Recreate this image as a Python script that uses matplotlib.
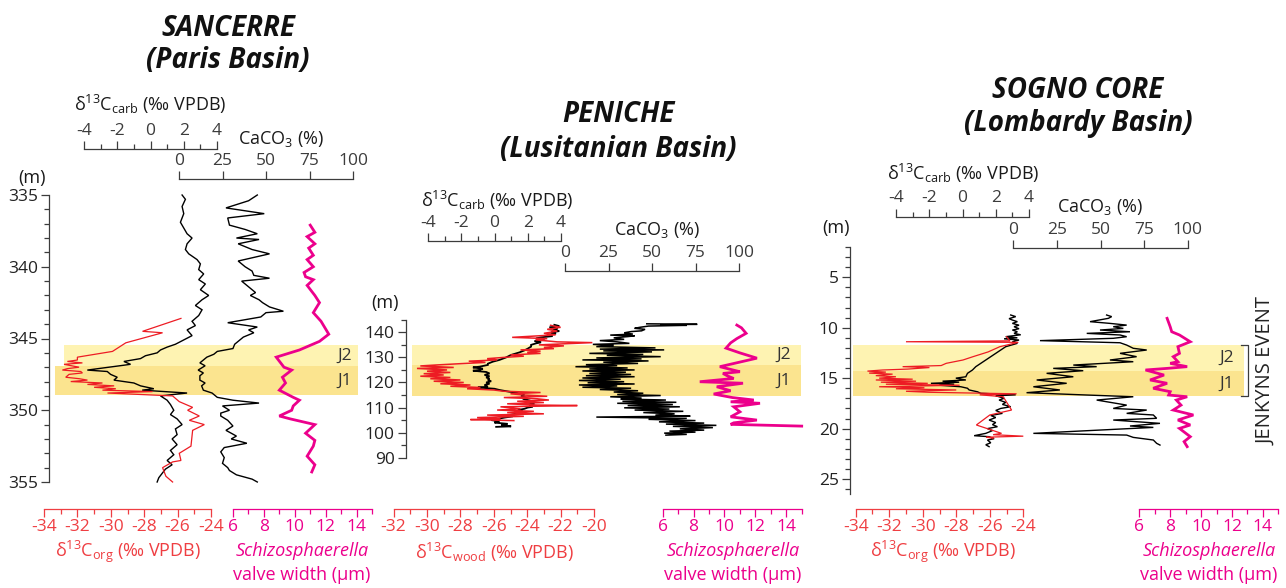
import matplotlib
matplotlib.use('Agg')
import matplotlib.pyplot as plt
import matplotlib.transforms as mtransforms

plt.rcParams['font.family'] = ['Open Sans', 'DejaVu Sans']
plt.rcParams['mathtext.fontset'] = 'custom'
plt.rcParams['mathtext.rm'] = 'Open Sans'
plt.rcParams['mathtext.it'] = 'Open Sans:italic'
plt.rcParams['mathtext.default'] = 'regular'
plt.rcParams['axes.unicode_minus'] = False

W, H = 1286, 588
RED = '#ED1C24'
RED_AX = '#EF3E42'
PINK = '#EC008C'
GREY = '#3c3c3c'
J2_COL = '#FEF3B2'
J1_COL = '#FBE48F'

# ---------------- SANCERRE (Paris Basin) ----------------
sanc_carb_depth = [335.0, 335.3, 335.8, 336.3, 336.9, 337.3, 337.7, 338.0, 338.4, 338.8, 339.1, 339.5,
                   339.8, 340.2, 340.5, 340.9, 341.2, 341.6, 342.0, 342.3, 342.7, 343.0, 343.4, 343.8,
                   344.1, 344.4, 344.8, 345.1, 345.4, 345.6, 345.8, 346.0, 346.2, 346.4, 346.6, 346.8,
                   347.0, 347.2, 347.3, 347.5, 347.7, 347.9, 348.1, 348.3, 348.5, 348.6, 348.8, 349.0,
                   349.3, 349.6, 350.0, 350.3, 350.6, 351.0, 351.3, 351.7, 352.0, 352.4, 352.8, 353.1,
                   353.5, 353.8, 354.1, 354.4, 354.7, 355.0]
sanc_carb = [1.9, 2.1, 1.9, 2.0, 1.8, 2.0, 2.2, 2.5, 2.2, 2.1, 2.3, 2.8,
             3.0, 2.9, 3.2, 2.9, 3.3, 3.0, 3.5, 3.1, 2.7, 3.1, 2.9, 2.5,
             2.7, 2.2, 2.5, 2.0, 1.5, 1.0, 0.6, 0.4, -0.3, -0.6, -1.6, -1.2,
             -2.5, -3.8, -2.6, -2.4, -2.0, -2.2, -1.0, -0.6, 0.2, -0.5, 2.2, 0.6,
             1.0, 1.2, 1.4, 1.2, 1.6, 1.9, 1.5, 1.6, 1.3, 1.6, 1.2, 1.4,
             1.0, 1.3, 0.9, 0.7, 0.5, 0.4]

sanc_caco3_depth = [335.0, 335.4, 335.9, 336.3, 336.6, 337.1, 337.4, 337.7, 338.0, 338.1, 338.4, 338.8,
                    339.1, 339.6, 340.0, 340.3, 340.6, 340.8, 341.0, 341.4, 341.8, 342.0, 342.3, 342.5,
                    342.8, 343.1, 343.2, 343.5, 343.9, 344.2, 344.4, 344.6, 344.9, 345.1, 345.4, 345.7,
                    345.9, 346.1, 346.3, 346.5, 346.7, 346.9, 347.2, 347.4, 347.6, 347.9, 348.1, 348.3,
                    348.6, 348.8, 349.1, 349.3, 349.5, 349.7, 350.0, 350.2, 350.4, 350.7, 351.1, 351.4,
                    351.8, 352.0, 352.3, 352.6, 352.9, 353.3, 353.7, 354.0, 354.2, 354.5, 354.8, 355.0]
sanc_caco3 = [45, 40, 27, 49, 28, 29, 38, 45, 33, 46, 34, 42,
              52, 34, 38, 42, 43, 52, 36, 40, 44, 41, 46, 48,
              52, 60, 50, 47, 28, 45, 40, 43, 37, 35, 32, 31,
              22, 20, 16, 14, 12, 15, 11, 14, 12, 12, 15, 13,
              14, 19, 22, 31, 46, 25, 29, 24, 24, 28, 31, 27,
              33, 30, 39, 26, 24, 26, 25, 28, 29, 33, 42, 45]

sanc_org_depth = [343.6, 344.5, 344.6, 345.3, 345.9, 346.3, 346.5, 346.6, 346.7, 346.8, 347.0, 347.1,
                  347.2, 347.3, 347.4, 347.5, 347.7, 347.8, 347.9, 348.0, 348.1, 348.2, 348.3, 348.4,
                  348.5, 348.6, 348.7, 348.8, 349.0, 349.4, 349.8, 350.0, 350.4, 350.7, 351.0, 351.4,
                  352.5, 353.0, 353.5, 353.6, 354.0, 354.6, 355.0]
sanc_org = [-25.8, -28.1, -26.9, -29.1, -29.9, -32.0, -32.0, -32.6, -31.7, -32.8, -31.9, -32.6,
            -32.9, -31.8, -31.7, -32.5, -32.7, -31.9, -31.4, -32.4, -30.5, -31.4, -29.8, -31.0,
            -29.7, -30.5, -27.5, -30.2, -26.3, -25.9, -25.1, -25.4, -24.7, -25.3, -24.4, -25.1,
            -25.2, -25.9, -25.8, -26.3, -26.9, -26.7, -26.3]

sanc_valve_depth = [337.1, 337.6, 337.9, 338.4, 338.7, 339.2, 339.5, 340.0, 340.4, 340.7, 340.9, 341.3,
                    342.0, 342.5, 343.2, 343.8, 344.7, 345.2, 345.8, 346.3, 347.0, 347.2, 347.7, 348.1,
                    348.6, 349.1, 349.3, 349.7, 350.0, 350.4, 350.6, 351.0, 351.6, 352.1, 352.5, 353.2,
                    353.8, 354.3]
sanc_valve = [11.0, 11.3, 10.8, 11.3, 10.9, 11.2, 10.8, 11.2, 10.6, 10.7, 11.2, 10.8,
              11.3, 11.6, 11.2, 11.7, 12.2, 11.6, 10.3, 8.8, 9.3, 9.8, 9.2, 9.4,
              9.0, 9.9, 10.3, 9.9, 9.8, 9.0, 9.7, 11.3, 10.7, 11.3, 11.2, 10.8,
              11.3, 11.1]

# ---------------- PENICHE (Lusitanian Basin) ----------------
pen_carb_height = [143.0, 142.5, 142.0, 141.5, 141.0, 140.5, 140.0, 139.5, 139.0, 138.5, 138.0, 137.6,
                   137.0, 136.5, 136.0, 135.6, 135.0, 134.3, 133.5, 132.8, 132.0, 131.0, 130.0, 129.0,
                   128.3, 127.5, 127.0, 126.3, 126.0, 125.5, 125.0, 124.7, 124.2, 123.6, 123.0, 122.5,
                   122.0, 121.5, 121.0, 120.5, 120.0, 119.5, 119.0, 118.3, 118.0, 117.5, 117.0, 116.3,
                   116.0, 115.5, 115.0, 114.5, 114.0, 113.5, 113.0, 112.5, 112.0, 111.5, 111.0, 110.3,
                   110.0, 109.5, 109.0, 108.5, 108.0, 107.7, 107.0, 106.5, 106.0, 105.5, 105.0, 104.5,
                   104.0, 103.5, 103.0, 102.5, 102.3]
pen_carb = [3.6, 3.9, 3.3, 3.8, 3.5, 3.9, 3.4, 3.7, 3.2, 3.5, 2.8, 2.5,
            3.0, 2.4, 2.8, 2.5, 2.2, 2.2, 2.0, 1.8, 1.5, 1.0, 0.7, 0.3,
            -0.1, -0.4, -0.4, -0.9, -1.3, -0.7, -0.9, -1.3, -0.5, -0.3, -0.6, -0.3,
            -0.5, -0.3, -0.4, -0.2, -0.5, -0.3, -0.6, -0.4, -1.0, 0.0, 0.3, 0.9,
            1.3, 1.5, 1.8, 1.6, 1.9, 1.7, 2.0, 2.3, 2.0, 2.4, 2.1, 2.3,
            2.0, 1.8, 1.4, 1.7, 1.2, 1.4, 0.9, 1.1, 0.6, 0.2, -0.2, 0.3,
            0.0, 0.8, 0.4, 1.0, 0.1]

pen_wood_height = [142.8, 142.0, 141.2, 140.5, 139.6, 139.0, 138.0, 137.5, 137.0, 136.2, 135.9, 135.0,
                   134.6, 134.0, 133.5, 133.0, 132.5, 132.0, 131.6, 131.0, 130.5, 130.0, 129.5, 129.0,
                   128.5, 128.0, 127.5, 127.0, 126.6, 126.0, 125.6, 125.0, 124.5, 124.0, 123.5, 123.0,
                   122.5, 122.0, 121.5, 121.0, 120.5, 120.0, 119.5, 119.0, 118.5, 118.0, 117.5, 117.0,
                   116.5, 116.0, 115.5, 115.0, 114.5, 114.0, 113.5, 113.0, 112.5, 112.0, 111.5, 111.0,
                   110.8, 110.3, 109.5, 109.0, 108.5, 108.0, 107.5, 107.0, 106.5, 106.0, 105.5, 105.2,
                   104.8]
pen_wood = [-22.6, -22.0, -22.8, -22.2, -23.0, -22.3, -24.9, -22.8, -23.5, -22.2, -20.1, -23.3,
            -21.8, -23.0, -22.4, -24.4, -23.2, -24.0, -23.2, -25.0, -24.2, -25.4, -26.4, -25.8,
            -27.5, -26.5, -28.0, -29.4, -30.4, -28.4, -30.6, -28.8, -30.0, -28.6, -30.2, -29.0,
            -30.4, -28.6, -29.8, -28.0, -29.6, -27.8, -29.2, -27.4, -28.6, -26.8, -27.6, -26.0,
            -25.4, -23.2, -25.0, -24.2, -22.8, -25.4, -23.4, -22.7, -24.6, -23.0, -25.2, -23.4,
            -21.0, -25.6, -24.4, -25.8, -23.6, -25.2, -23.0, -26.4, -24.2, -27.0, -25.6, -27.4,
            -24.8]

pen_caco3_height = [143.4, 143.2, 143.0, 142.8, 142.5, 142.0, 141.6, 141.2, 140.6, 140.3, 139.8, 139.3,
                    138.9, 138.6, 138.3, 137.8, 137.2, 136.7, 136.2, 135.6, 135.2, 134.8, 134.3, 133.8,
                    133.3, 133.0, 132.6, 132.2, 131.6, 131.2, 130.8, 130.3, 129.8, 129.4, 129.0, 128.6,
                    128.1, 127.6, 127.1, 126.7, 126.3, 125.8, 125.4, 125.0, 124.6, 124.1, 123.6, 123.2,
                    122.7, 122.3, 121.8, 121.3, 120.8, 120.3, 119.9, 119.4, 119.0, 118.6, 118.1, 117.7,
                    117.2, 116.7, 116.2, 115.7, 115.2, 114.8, 114.3, 113.8, 113.4, 113.0, 112.5, 112.1,
                    111.7, 111.2, 110.8, 110.3, 109.9, 109.4, 109.0, 108.5, 108.0, 107.5, 107.0, 106.6,
                    106.2, 105.7, 105.3, 104.8, 104.3, 103.8, 103.4, 102.9, 102.5, 102.0, 101.5, 101.0,
                    100.6, 100.2, 99.8, 99.3, 99.0]
pen_caco3 = [47, 76, 55, 70, 48, 43, 40, 46, 44, 38, 34, 39,
             26, 40, 36, 28, 34, 20, 30, 37, 16, 28, 18, 52,
             20, 57, 22, 50, 14, 45, 24, 55, 18, 44, 10, 48,
             22, 42, 12, 30, 6, 36, 14, 40, 10, 35, 14, 38,
             12, 40, 10, 32, 8, 34, 13, 40, 8, 30, 10, 38,
             20, 42, 28, 45, 30, 55, 26, 44, 32, 58, 33, 64,
             30, 62, 36, 66, 34, 60, 40, 68, 45, 63, 52, 72,
             18, 70, 48, 75, 54, 80, 58, 87, 62, 85, 66, 80,
             60, 75, 57, 70, 58]

pen_valve_height = [142.9, 141.8, 139.6, 137.5, 135.8, 133.7, 131.8, 129.7, 128.0, 126.3, 124.9, 124.3,
                    123.6, 122.6, 121.6, 120.3, 119.7, 118.3, 116.7, 115.4, 114.0, 113.0, 112.3, 111.7,
                    110.3, 108.3, 106.3, 105.0, 103.9, 103.3, 102.6]
pen_valve = [10.8, 11.1, 11.4, 10.8, 10.4, 10.1, 11.0, 12.1, 10.9, 9.7, 10.6, 11.0,
             9.9, 10.2, 10.6, 8.4, 11.2, 9.5, 10.4, 9.3, 10.5, 11.9, 10.4, 12.3,
             10.6, 11.0, 10.4, 12.1, 10.6, 10.4, 15.0]

# ---------------- SOGNO CORE (Lombardy Basin) ----------------
sog_carb_depth = [8.74, 8.9, 9.1, 9.24, 9.4, 9.57, 9.75, 9.9, 10.1, 10.23, 10.4, 10.56,
                  10.7, 10.89, 11.0, 11.1, 11.22, 11.39, 11.55, 11.88, 12.21, 12.54, 12.87, 13.2,
                  13.53, 13.86, 14.19, 14.52, 14.86, 15.0, 15.18, 15.3, 15.4, 15.51, 15.6, 15.7,
                  15.85, 16.0, 16.17, 16.35, 16.5, 16.65, 16.75, 16.84, 17.0, 17.17, 17.4, 17.6,
                  17.83, 18.0, 18.2, 18.49, 18.7, 18.9, 19.15, 19.4, 19.6, 19.81, 20.0, 20.2,
                  20.47, 20.7, 20.8, 21.0, 21.13, 21.4, 21.6, 21.79]
sog_carb = [2.9, 3.2, 2.8, 3.0, 3.3, 3.0, 3.4, 3.1, 3.4, 3.0, 3.3, 3.1,
            3.5, 2.6, 3.3, 2.5, 3.4, 3.0, 3.3, 2.6, 2.3, 2.0, 1.7, 1.4,
            1.1, 0.8, 0.6, 0.3, 0.2, -0.4, 0.2, -1.2, -0.2, -1.9, -0.5, -1.4,
            -0.1, 0.3, 0.4, 0.9, 1.1, 3.2, 2.0, 2.2, 2.5, 2.2, 2.6, 2.4,
            2.9, 2.3, 2.0, 2.4, 1.7, 2.0, 1.6, 2.0, 1.8, 2.1, 1.5, 1.8,
            1.4, 0.7, 1.6, 1.9, 1.5, 1.7, 1.4, 1.6]

sog_org_depth = [10.89, 11.3, 11.39, 11.45, 11.88, 12.4, 12.87, 13.2, 13.53, 13.75, 13.86, 13.95,
                 14.1, 14.19, 14.3, 14.4, 14.5, 14.6, 14.75, 14.86, 15.0, 15.1, 15.18, 15.3,
                 15.4, 15.51, 15.6, 15.7, 15.85, 15.95, 16.05, 16.17, 16.3, 16.4, 16.55, 16.65,
                 16.84, 18.16, 18.65, 19.64, 20.47, 20.6, 20.75, 20.85, 20.95]
sog_org = [-25.0, -24.8, -31.0, -24.3, -25.4, -26.1, -27.0, -27.6, -28.6, -28.9, -31.2, -29.6,
           -30.9, -32.4, -33.3, -32.2, -33.2, -31.8, -32.8, -31.6, -32.6, -30.6, -32.8, -30.4,
           -32.5, -29.7, -32.2, -27.8, -32.6, -29.9, -31.6, -28.0, -31.0, -29.6, -24.4, -26.6,
           -25.2, -24.7, -26.0, -26.8, -25.3, -25.8, -24.0, -26.2, -25.8]

sog_caco3_depth = [8.74, 8.9, 9.07, 9.4, 9.57, 9.74, 9.9, 10.07, 10.23, 10.4, 10.56, 10.72,
                   10.89, 11.05, 11.28, 11.49, 11.72, 12.04, 12.21, 12.54, 12.87, 13.2, 13.37, 13.7,
                   13.86, 14.03, 14.26, 14.52, 14.86, 15.18, 15.51, 15.85, 16.17, 16.44, 16.67, 16.84,
                   17.17, 17.67, 18.0, 18.16, 18.49, 18.65, 18.98, 19.15, 19.48, 19.74, 19.88, 20.47,
                   20.64, 20.87, 21.13, 21.46, 21.63]
sog_caco3 = [53.5, 56.4, 54.5, 44.0, 55.4, 65.0, 57.3, 63.1, 49.7, 66.9, 42.1, 61.2,
             65.0, 57.3, 15.3, 61.2, 65.0, 68.8, 76.5, 61.2, 70.7, 55.4, 68.8, 34.4,
             47.8, 22.9, 40.1, 19.1, 34.4, 13.4, 30.6, 11.5, 26.7, 7.6, 42.1, 68.8,
             47.8, 65.0, 57.3, 76.5, 65.0, 80.3, 82.2, 57.3, 84.1, 66.9, 80.3, 11.5,
             65.0, 68.8, 80.3, 82.2, 84.1]

sog_valve_depth = [9.07, 9.9, 10.4, 10.72, 11.39, 11.88, 12.54, 12.87, 13.37, 13.53, 13.86, 14.03,
                   14.19, 14.69, 15.18, 15.51, 16.0, 16.34, 16.67, 16.84, 17.17, 17.67, 18.16, 18.65,
                   19.15, 19.64, 19.98, 20.8, 21.29, 21.79]
sog_valve = [7.8, 8.0, 8.1, 8.6, 9.3, 8.5, 8.6, 8.2, 8.5, 8.0, 9.1, 7.8,
             6.4, 7.6, 6.7, 7.8, 6.9, 8.0, 7.9, 9.1, 8.4, 8.7, 8.2, 9.5,
             8.5, 9.3, 8.6, 9.3, 8.9, 9.1]

# J2 / J1 intervals (top, bottom) per section
sanc_j2, sanc_j1 = (345.45, 346.9), (346.9, 348.96)
pen_j2, pen_j1 = (134.9, 127.0), (127.0, 114.7)
sog_j2, sog_j1 = (11.71, 14.29), (14.29, 16.74)

fig = plt.figure(figsize=(W / 100, H / 100), dpi=100)


def box(x0, x1, y0, y1):
    # axes placed by pixel box (origin top-left)
    return fig.add_axes([x0 / W, 1 - y1 / H, (x1 - x0) / W, (y1 - y0) / H])


def ftext(x, y, s, **kw):
    kw.setdefault('ha', 'center')
    kw.setdefault('va', 'center')
    fig.text(x / W, 1 - y / H, s, **kw)


def curve(x0, x1, xlim, ybox, ylim, depth, vals, color, lw):
    ax = box(x0, x1, ybox[0], ybox[1])
    ax.set_xlim(xlim)
    ax.set_ylim(ylim)
    ax.axis('off')
    ax.plot(vals, depth, color=color, lw=lw, clip_on=False, solid_joinstyle='miter')
    return ax


def scale(x0, x1, y, lim, major, minor, color, top, fs=12.5):
    ax = box(x0, x1, y, y + 0.01)
    ax.set_xlim(lim)
    ax.patch.set_alpha(0)
    for s in ax.spines.values():
        s.set_visible(False)
    side = 'top' if top else 'bottom'
    ax.spines[side].set_visible(True)
    ax.spines[side].set_color(color)
    ax.spines[side].set_linewidth(0.9)
    ax.set_yticks([])
    ax.set_xticks(major)
    ax.set_xticks(minor, minor=True)
    ax.tick_params(axis='x', which='both', top=top, bottom=not top, labeltop=top,
                   labelbottom=not top, color=color, labelcolor=color, direction='out',
                   labelsize=fs, pad=1.5, width=0.9)
    ax.tick_params(axis='x', which='major', length=6)
    ax.tick_params(axis='x', which='minor', length=3.5)
    return ax


def depth_axis(x, ybox, ylim, major, minor):
    ax = box(x, x + 1, ybox[0], ybox[1])
    ax.set_ylim(ylim)
    ax.patch.set_alpha(0)
    for s in ['top', 'right', 'bottom']:
        ax.spines[s].set_visible(False)
    ax.spines['left'].set_color(GREY)
    ax.spines['left'].set_linewidth(0.9)
    ax.set_xticks([])
    ax.set_yticks(major)
    ax.set_yticks(minor, minor=True)
    ax.tick_params(axis='y', which='both', direction='out', color=GREY, labelcolor='#222222',
                   labelsize=12.5, width=0.9, pad=2)
    ax.tick_params(axis='y', which='major', length=6)
    ax.tick_params(axis='y', which='minor', length=3.5)
    return ax


def bands(x0, x1, ybox, ylim, j2, j1, j2_from=0.0):
    ax = box(x0, x1, ybox[0], ybox[1])
    ax.set_ylim(ylim)
    ax.set_xlim(0, 1)
    ax.axis('off')
    ax.axhspan(j2[0], j2[1], xmin=j2_from, color=J2_COL, lw=0)
    ax.axhspan(j1[0], j1[1], color=J1_COL, lw=0)
    tr = mtransforms.blended_transform_factory(ax.transAxes, ax.transData)
    ax.text(0.955, (j2[0] + j2[1]) / 2, 'J2', transform=tr, ha='center', va='center',
            fontsize=12.5, color='#333333')
    ax.text(0.955, (j1[0] + j1[1]) / 2, 'J1', transform=tr, ha='center', va='center',
            fontsize=12.5, color='#333333')
    return ax, tr


CARB_LBL = r'δ$^{13}$C$_{carb}$ (‰ VPDB)'
CACO3_LBL = r'CaCO$_{3}$ (%)'
TITLE_KW = dict(fontsize=20, fontweight='bold', fontstyle='italic', color='#111111')
LBL_KW = dict(fontsize=13, color='#1a1a1a')
PINK_KW = dict(fontsize=13, color=PINK)

# ---------------- panel 1 ----------------
yb1, yl1 = (195, 482), (355, 335)
bands(55, 358, yb1, yl1, sanc_j2, sanc_j1, j2_from=0.03)
curve(84, 217, (-4, 4), yb1, yl1, sanc_carb_depth, sanc_carb, 'black', 1.0)
curve(179, 353, (0, 100), yb1, yl1, sanc_caco3_depth, sanc_caco3, 'black', 1.0)
curve(44, 211, (-34, -24), yb1, yl1, sanc_org_depth, sanc_org, RED, 0.9)
curve(233, 372, (6, 15), yb1, yl1, sanc_valve_depth, sanc_valve, PINK, 2.0)
depth_axis(49, yb1, yl1, range(335, 356, 5), range(335, 356, 1))
scale(84, 217, 149, (-4, 4), [-4, -2, 0, 2, 4], [-3, -1, 1, 3], GREY, True)
scale(179, 353, 179, (0, 100), [0, 25, 50, 75, 100], [], GREY, True)
scale(44, 211, 509, (-34, -24), range(-34, -23, 2), range(-33, -24, 2), RED_AX, False)
scale(233, 372, 509, (6, 15), range(6, 15, 2), range(7, 16, 2), PINK, False)
ftext(32, 178, '(m)', **LBL_KW)
ftext(150, 104, CARB_LBL, **LBL_KW)
ftext(281, 139, CACO3_LBL, **LBL_KW)
ftext(128, 552, r'δ$^{13}$C$_{org}$ (‰ VPDB)', fontsize=13, color=RED_AX)
ftext(302, 551, 'Schizosphaerella', fontstyle='italic', **PINK_KW)
ftext(302, 575, 'valve width (µm)', **PINK_KW)
ftext(228, 28, 'SANCERRE', **TITLE_KW)
ftext(228, 60, '(Paris Basin)', **TITLE_KW)

# ---------------- panel 2 ----------------
yb2, yl2 = (319.8, 457.7), (90, 145)
bands(411.7, 801, yb2, yl2, pen_j2, pen_j1)
curve(428, 561, (-4, 4), yb2, yl2, pen_carb_height, pen_carb, 'black', 1.3)
curve(565, 739, (0, 100), yb2, yl2, pen_caco3_height, pen_caco3, 'black', 1.1)
curve(393.6, 594, (-32, -20), yb2, yl2, pen_wood_height, pen_wood, RED, 1.1)
curve(662.7, 801.7, (6, 15), yb2, yl2, pen_valve_height, pen_valve, PINK, 2.0)
depth_axis(406, yb2, yl2, range(90, 141, 10), range(95, 146, 10))
scale(428, 561, 241, (-4, 4), [-4, -2, 0, 2, 4], [-3, -1, 1, 3], GREY, True)
scale(565, 739, 271, (0, 100), [0, 25, 50, 75, 100], [], GREY, True)
scale(393.6, 594, 509, (-32, -20), range(-32, -19, 2), range(-31, -20, 2), RED_AX, False)
scale(662.7, 801.7, 509, (6, 15), range(6, 15, 2), range(7, 16, 2), PINK, False)
ftext(385, 303, '(m)', **LBL_KW)
ftext(497, 200, CARB_LBL, **LBL_KW)
ftext(657, 230, CACO3_LBL, **LBL_KW)
ftext(495, 552, r'δ$^{13}$C$_{wood}$ (‰ VPDB)', fontsize=13, color=RED_AX)
ftext(733, 551, 'Schizosphaerella', fontstyle='italic', **PINK_KW)
ftext(733, 575, 'valve width (µm)', **PINK_KW)
ftext(618, 114, 'PENICHE', **TITLE_KW)
ftext(618, 150, '(Lusitanian Basin)', **TITLE_KW)

# ---------------- panel 3 ----------------
yb3, yl3 = (247, 494.2), (26.5, 2)
ax_b3, tr3 = bands(853, 1244, yb3, yl3, sog_j2, sog_j1)
ax_b3.plot([0.992, 1.010, 1.010, 0.992], [sog_j2[0], sog_j2[0], sog_j1[1], sog_j1[1]],
           transform=tr3, color=GREY, lw=0.9, clip_on=False)
curve(896, 1029, (-4, 4), yb3, yl3, sog_carb_depth, sog_carb, 'black', 1.0)
curve(1013.3, 1187.7, (0, 100), yb3, yl3, sog_caco3_depth, sog_caco3, 'black', 1.0)
curve(855.7, 1023.3, (-34, -24), yb3, yl3, sog_org_depth, sog_org, RED, 0.9)
curve(1139.3, 1278.3, (6, 15), yb3, yl3, sog_valve_depth, sog_valve, PINK, 2.0)
depth_axis(850, yb3, yl3, range(5, 26, 5), range(2, 27, 1))
scale(896, 1029, 216.7, (-4, 4), [-4, -2, 0, 2, 4], [-3, -1, 1, 3], GREY, True)
scale(1013.3, 1187.7, 248.3, (0, 100), [0, 25, 50, 75, 100], [], GREY, True)
scale(855.7, 1023.3, 509, (-34, -24), range(-34, -23, 2), range(-33, -24, 2), RED_AX, False)
scale(1139.3, 1278.3, 509, (6, 15), range(6, 15, 2), range(7, 16, 2), PINK, False)
ftext(836, 228, '(m)', **LBL_KW)
ftext(963, 173, CARB_LBL, **LBL_KW)
ftext(1100, 207, CACO3_LBL, **LBL_KW)
ftext(943, 552, r'δ$^{13}$C$_{org}$ (‰ VPDB)', fontsize=13, color=RED_AX)
ftext(1209, 551, 'Schizosphaerella', fontstyle='italic', **PINK_KW)
ftext(1209, 575, 'valve width (µm)', **PINK_KW)
ftext(1266, 371, 'JENKYNS EVENT', fontsize=14.5, color='#222222', rotation=90)
ftext(1078, 91, 'SOGNO CORE', **TITLE_KW)
ftext(1078, 123, '(Lombardy Basin)', **TITLE_KW)

fig.savefig('out.png', dpi=100, facecolor='white')
